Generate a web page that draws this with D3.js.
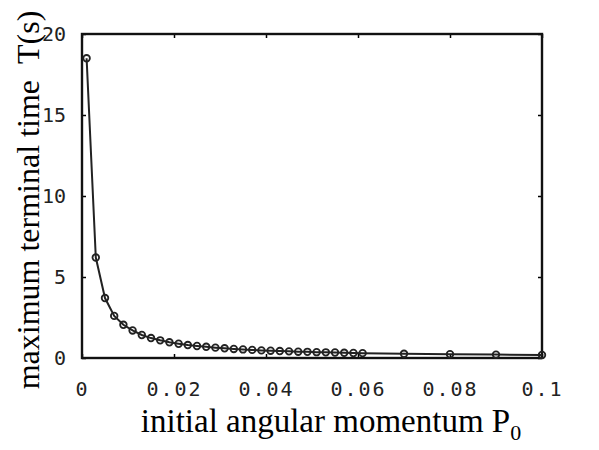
<!DOCTYPE html>
<html>
<head>
<meta charset="utf-8">
<script src="https://cdn.jsdelivr.net/npm/d3@7"></script>
<style>
  html, body { margin: 0; padding: 0; background: #fff; }
  svg { display: block; }
</style>
</head>
<body>
<svg id="chart" width="599" height="450"></svg>
<script>
// Data
const momentum = [0.001, 0.003, 0.005, 0.007, 0.009, 0.011, 0.013, 0.015, 0.017, 0.019,
  0.021, 0.023, 0.025, 0.027, 0.029, 0.031, 0.033, 0.035, 0.037, 0.039,
  0.041, 0.043, 0.045, 0.047, 0.049, 0.051, 0.053, 0.055, 0.057, 0.059,
  0.061, 0.07, 0.08, 0.09, 0.1];
const terminalTime = [18.5, 6.2, 3.7, 2.6, 2.05, 1.7, 1.42, 1.23, 1.09, 0.97,
  0.88, 0.80, 0.74, 0.69, 0.64, 0.60, 0.56, 0.53, 0.50, 0.47,
  0.45, 0.43, 0.41, 0.39, 0.38, 0.36, 0.35, 0.34, 0.32, 0.31,
  0.30, 0.26, 0.23, 0.21, 0.19];
const xTicks = [0, 0.02, 0.04, 0.06, 0.08, 0.1];
const xTickLabels = ["0", "0.02", "0.04", "0.06", "0.08", "0.1"];
const yTicks = [0, 5, 10, 15, 20];
const yTickLabels = ["0", "5", "10", "15", "20"];
const xTitle = "initial angular momentum P";
const xTitleSub = "0";
const yTitle = "maximum terminal time\u00a0\u00a0T(s)";

const svg = d3.select("#chart");
const L = 82, R = 542, T = 34, B = 358;

const x = d3.scaleLinear().domain([0, 0.1]).range([L, R]);
const y = d3.scaleLinear().domain([0, 20]).range([B, T]);

const tickFont = "'DejaVu Sans Mono', 'Liberation Mono', monospace";
const titleFont = "'Liberation Serif', 'DejaVu Serif', serif";

function styleAxis(g) {
  g.select(".domain").remove();
  g.selectAll(".tick line").attr("stroke", "#000").attr("stroke-width", 1.5);
  g.selectAll(".tick text")
    .attr("font-family", tickFont)
    .attr("font-size", 20)
    .attr("fill", "#222");
}

// bottom axis
svg.append("g")
  .attr("transform", `translate(0,${B})`)
  .call(d3.axisBottom(x).tickValues(xTicks)
    .tickFormat((d, i) => xTickLabels[i]).tickSizeInner(-4).tickSizeOuter(0).tickPadding(24))
  .call(styleAxis)
  .call(g => g.selectAll(".tick text").attr("letter-spacing", 2));

// top axis (mirror ticks)
svg.append("g")
  .attr("transform", `translate(0,${T})`)
  .call(d3.axisTop(x).tickValues(xTicks).tickFormat("").tickSizeInner(-4).tickSizeOuter(0))
  .call(styleAxis);

// left axis
svg.append("g")
  .attr("transform", `translate(${L},0)`)
  .call(d3.axisLeft(y).tickValues(yTicks)
    .tickFormat((d, i) => yTickLabels[i]).tickSizeInner(-4).tickSizeOuter(0).tickPadding(16))
  .call(styleAxis);

// right axis
svg.append("g")
  .attr("transform", `translate(${R},0)`)
  .call(d3.axisRight(y).tickValues(yTicks).tickFormat("").tickSizeInner(-4).tickSizeOuter(0))
  .call(styleAxis);

// frame
svg.append("rect")
  .attr("x", L).attr("y", T)
  .attr("width", R - L).attr("height", B - T)
  .attr("fill", "none").attr("stroke", "#111").attr("stroke-width", 2.4);

// curve
const pts = momentum.map((m, i) => [m, terminalTime[i]]);
svg.append("path")
  .datum(pts)
  .attr("fill", "none")
  .attr("stroke", "#222")
  .attr("stroke-width", 2)
  .attr("d", d3.line().x(d => x(d[0])).y(d => y(d[1])));

svg.append("g").selectAll("circle")
  .data(pts).join("circle")
  .attr("cx", d => x(d[0]))
  .attr("cy", d => y(d[1]))
  .attr("r", 3.3)
  .attr("fill", "none")
  .attr("stroke", "#222")
  .attr("stroke-width", 1.8);

// x title
const xt = svg.append("text")
  .attr("x", 331).attr("y", 432)
  .attr("text-anchor", "middle")
  .attr("font-family", titleFont)
  .attr("font-size", 33)
  .attr("fill", "#000");
xt.append("tspan").text(xTitle);
xt.append("tspan").attr("font-size", 22).attr("dy", 8).text(xTitleSub);

// y title
svg.append("text")
  .attr("transform", "translate(39,200) rotate(-90)")
  .attr("text-anchor", "middle")
  .attr("font-family", titleFont)
  .attr("font-size", 32)
  .attr("fill", "#000")
  .text(yTitle);
</script>
</body>
</html>
